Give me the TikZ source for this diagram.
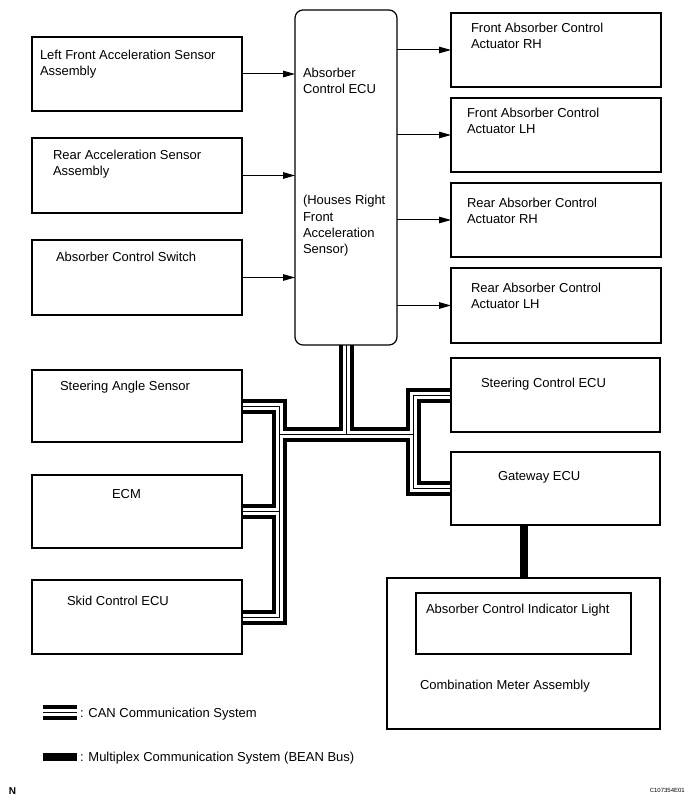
\documentclass[tikz,border=0pt]{standalone}
\usepackage{fontspec}
\setmainfont{Liberation Sans}
\usetikzlibrary{arrows.meta}
\pgfdeclarelayer{background}
\pgfsetlayers{background,main}
\begin{document}
\begin{tikzpicture}[x=1pt,y=-1pt,
  font=\fontsize{13}{16}\selectfont,
  boxst/.style={draw=black, line width=1.2pt, rectangle, inner sep=0pt, outer sep=0pt, anchor=north west},
  lbl/.style={anchor=base west, align=left, inner sep=0pt, outer sep=0pt},
  sig/.style={draw=black, line width=1pt, -{Triangle[length=12pt,width=6.5pt]}},
  canouter/.style={line width=15pt, draw=black, line cap=butt, line join=miter},
  canwhite/.style={line width=7pt, draw=white, line cap=butt, line join=miter},
  cancore/.style={line width=1pt, draw=black, line cap=butt, line join=miter},
  bean/.style={line width=8pt, draw=black, line cap=butt}]
\useasboundingbox (0,0) rectangle (693,802);

% boxes
\node[boxst, minimum width=210pt, minimum height=74pt] (lf) at (32,37) {};
\node[boxst, minimum width=210pt, minimum height=75pt] (ra) at (32,138) {};
\node[boxst, minimum width=210pt, minimum height=75pt] (sw) at (32,240) {};
\node[boxst, minimum width=102pt, minimum height=335pt, rounded corners=8pt] (ecu) at (295,10) {};
\node[boxst, minimum width=210pt, minimum height=74pt] (r1) at (451,13) {};
\node[boxst, minimum width=210pt, minimum height=74pt] (r2) at (451,98) {};
\node[boxst, minimum width=210pt, minimum height=74pt] (r3) at (451,183) {};
\node[boxst, minimum width=210pt, minimum height=75pt] (r4) at (451,268) {};
\node[boxst, minimum width=210pt, minimum height=72pt] (sas) at (32,370) {};
\node[boxst, minimum width=210pt, minimum height=73pt] (ecm) at (32,475) {};
\node[boxst, minimum width=210pt, minimum height=74pt] (skid) at (32,580) {};
\node[boxst, minimum width=209pt, minimum height=74pt] (sc) at (451,358) {};
\node[boxst, minimum width=209pt, minimum height=73pt] (gw) at (451,452) {};
\node[boxst, minimum width=273pt, minimum height=151pt] (cm) at (387,578) {};
\node[boxst, minimum width=215pt, minimum height=61pt] (il) at (416,593) {};

% texts (base anchor = baseline of the last line)
\node[lbl] (tlf) at (40,76) {Left Front Acceleration Sensor\\Assembly};
\node[lbl] (tra) at (53,176) {Rear Acceleration Sensor\\Assembly};
\node[lbl] (tsw) at (56,261) {Absorber Control Switch};
\node[lbl] (tecu1) at (303,94) {Absorber\\Control ECU};
\node[lbl] (tecu2) at (303,253) {(Houses Right\\Front\\Acceleration\\Sensor)};
\node[lbl] (tr1) at (471,49) {Front Absorber Control\\Actuator RH};
\node[lbl] (tr2) at (467,134) {Front Absorber Control\\Actuator LH};
\node[lbl] (tr3) at (467,223) {Rear Absorber Control\\Actuator RH};
\node[lbl] (tr4) at (471,308) {Rear Absorber Control\\Actuator LH};
\node[lbl] (tsas) at (60,390) {Steering Angle Sensor};
\node[lbl] (tecm) at (112,498) {ECM};
\node[lbl] (tskid) at (67,605) {Skid Control ECU};
\node[lbl] (tsc) at (481,387) {Steering Control ECU};
\node[lbl] (tgw) at (498,480) {Gateway ECU};
\node[lbl] (til) at (426,613) {Absorber Control Indicator Light};
\node[lbl] (tcm) at (420,689) {Combination Meter Assembly};

% signal arrows
\draw[sig] (lf.east) -- (lf.east -| ecu.west);
\draw[sig] (ra.east) -- (ra.east -| ecu.west);
\draw[sig] (sw.east) -- (sw.east -| ecu.west);
\draw[sig] (ecu.east |- r1.west) -- (r1.west);
\draw[sig] (ecu.east |- r2.west) -- (r2.west);
\draw[sig] (ecu.east |- r3.west) -- (r3.west);
\draw[sig] (ecu.east |- r4.west) -- (r4.west);

% CAN bus
\coordinate (jl) at (279,434);
\coordinate (jr) at (413,434);
\coordinate (jc) at (ecu.south |- jl);
\newcommand\canpaths[1]{%
  \draw[#1] (ecu.south) -- (jc);
  \draw[#1] (jl) -- (jr);
  \draw[#1] (sas.east) -- (sas.east -| jl) -- (skid.east -| jl) -- (skid.east);
  \draw[#1] (ecm.east) -- (ecm.east -| jl);
  \draw[#1] (sc.west) -- (sc.west -| jr) -- (gw.west -| jr) -- (gw.west);
}
\begin{pgfonlayer}{background}
\canpaths{canouter}
\canpaths{canwhite}
\canpaths{cancore}
\end{pgfonlayer}

% BEAN bus
\coordinate (bn) at (524,0);
\draw[bean] (bn |- gw.south) -- (bn |- cm.north);

% legend
\coordinate (lca) at (43,712);
\coordinate (lcb) at (77,712);
\draw[canouter] (lca) -- (lcb);
\draw[canwhite] (lca) -- (lcb);
\draw[cancore] (lca) -- (lcb);
\node[lbl] (tlcan) at (80,717) {: CAN Communication System};
\coordinate (lba) at (43,757);
\coordinate (lbb) at (77,757);
\draw[bean] (lba) -- (lbb);
\node[lbl] (tlbean) at (80,761) {: Multiplex Communication System (BEAN Bus)};

% footer
\node[lbl, font=\fontsize{10}{11}\selectfont\bfseries] (tn) at (9,794) {N};
\node[anchor=base east, inner sep=0pt, font=\fontsize{6}{7}\selectfont] (tcode) at (685,792) {C107354E01};
\end{tikzpicture}
\end{document}
